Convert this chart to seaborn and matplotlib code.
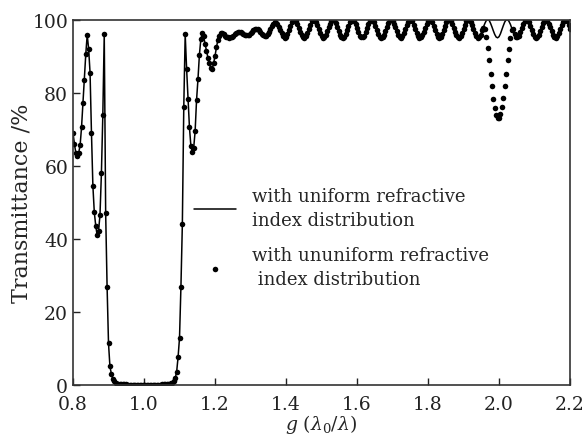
import numpy as np
import pandas as pd
import seaborn as sns
import matplotlib.pyplot as plt
from matplotlib.ticker import FormatStrFormatter

# sampling of g = lambda0/lambda
g_start = 0.8
g_step = 0.004

# transmittance (%) with uniform refractive index
# 0.800 - 0.932
t_side_left = [69.0, 66.0, 63.5, 62.8, 63.6, 65.6, 70.5, 77.2, 83.4, 90.6,
               95.8, 92.0, 85.5, 69.0, 54.5, 47.3, 43.7, 41.0, 42.3, 46.6,
               58.0, 74.0, 96.0, 47.0, 27.0, 11.5, 5.2, 3.2, 1.8, 1.1,
               0.7, 0.5, 0.4, 0.3]
# 0.936 - 1.064 (stop band)
t_stopband = [0.4, 0.3, 0.3, 0.3, 0.2, 0.2, 0.2, 0.2, 0.2, 0.2,
              0.2, 0.2, 0.2, 0.2, 0.2, 0.2, 0.2, 0.2, 0.2, 0.2,
              0.2, 0.2, 0.2, 0.2, 0.2, 0.2, 0.2, 0.2, 0.2, 0.3,
              0.3, 0.3, 0.4]
# 1.068 - 1.196
t_side_right = [0.4, 0.5, 0.6, 0.8, 1.2, 2.0, 3.8, 7.8, 13.0, 27.0,
                44.0, 76.0, 96.0, 86.5, 78.3, 70.5, 65.5, 63.8, 65.0, 69.5,
                78.0, 83.7, 90.3, 94.6, 96.2, 95.4, 93.3, 91.4, 89.6, 88.0,
                86.8, 86.6, 88.0]
# 1.200 - 1.396
t_ripple_near = [90.0, 92.4, 94.3, 95.6, 96.2, 96.2, 96.0, 95.6, 95.3, 95.1,
                 95.0, 95.1, 95.3, 95.6, 96.0, 96.3, 96.5, 96.6, 96.5, 96.3,
                 96.1, 95.9, 95.8, 95.8, 95.9, 96.2, 96.6, 97.0, 97.3, 97.4,
                 97.3, 97.0, 96.6, 96.1, 95.7, 95.5, 95.6, 96.0, 96.7, 97.5,
                 98.3, 98.9, 99.2, 99.1, 98.7, 98.0, 97.1, 96.2, 95.4, 95.0]
# 1.400 - 2.200
t_ripple_far = [
    95.3, 96.0, 97.0, 98.2, 99.2, 99.8, 100.0, 99.6, 98.8, 97.8, 96.6, 95.7, 95.1,
    95.0, 95.5, 96.4, 97.5, 98.6, 99.5, 99.9, 99.9, 99.4, 98.4, 97.3, 96.2, 95.4, 95.0,
    95.2, 95.8, 96.8, 97.9, 98.9, 99.7, 100.0, 99.8, 99.0, 98.0, 96.9, 95.9, 95.2, 95.0,
    95.3, 96.1, 97.2, 98.3, 99.3, 99.9, 100.0, 99.5, 98.7, 97.6, 96.5, 95.6, 95.1,
    95.1, 95.6, 96.5, 97.6, 98.7, 99.5, 100.0, 99.9, 99.3, 98.3, 97.2, 96.1, 95.3, 95.0,
    95.2, 95.9, 96.9, 98.0, 99.0, 99.8, 100.0, 99.7, 98.9, 97.9, 96.8, 95.8, 95.2, 95.0,
    95.4, 96.2, 97.3, 98.4, 99.4, 99.9, 99.9, 99.5, 98.6, 97.5, 96.4, 95.5, 95.0,
    95.1, 95.7, 96.6, 97.8, 98.8, 99.6, 100.0, 99.8, 99.2, 98.2, 97.0, 96.0, 95.3, 95.0,
    95.3, 96.0, 97.0, 98.2, 99.2, 99.8, 100.0, 99.6, 98.8, 97.8, 96.6, 95.7, 95.1, 95.0,
    95.5, 96.4, 97.5, 98.6, 99.5, 99.9, 99.9, 99.4, 98.4, 97.3, 96.2, 95.4, 95.0,
    95.2, 95.8, 96.8, 97.9, 98.9, 99.7, 100.0, 99.8, 99.0, 98.0, 96.9, 95.9, 95.2, 95.0,
    95.3, 96.1, 97.2, 98.3, 99.3, 99.9, 100.0, 99.5, 98.7, 97.6, 96.5, 95.6, 95.1,
    95.1, 95.6, 96.5, 97.6, 98.7, 99.5, 100.0, 99.9, 99.3, 98.3, 97.2, 96.1, 95.3, 95.0,
    95.2, 95.9, 96.9, 98.0, 99.0, 99.8, 100.0, 99.7, 98.9, 97.9, 96.8, 95.8, 95.2, 95.0,
    95.4, 96.2, 97.3, 98.4, 99.4, 99.9, 99.9, 99.5, 98.6, 97.5]

# ununiform index: same curve except the dip around g = 2.0 (1.952 - 2.044)
dip_start = 1.952
t_dip = [97.0, 97.8, 97.4, 95.3, 92.2, 89.0, 85.2, 81.7, 78.4, 75.8,
         74.0, 73.0, 73.1, 74.2, 76.0, 78.5, 81.8, 85.2, 88.8, 92.0,
         95.0, 97.0, 97.3, 96.0]

t_uniform = np.concatenate([t_side_left, t_stopband, t_side_right,
                            t_ripple_near, t_ripple_far])
g = np.round(g_start + g_step * np.arange(len(t_uniform)), 3)
t_ununiform = t_uniform.copy()
i0 = int(np.argmin(np.abs(g - dip_start)))
t_ununiform[i0:i0 + len(t_dip)] = t_dip

df = pd.DataFrame({"g": g, "uniform": t_uniform, "ununiform": t_ununiform})

sns.set_style("ticks")
plt.rcParams['font.family'] = ['DejaVu Serif']
plt.rcParams['mathtext.fontset'] = 'dejavuserif'

fig = plt.figure(figsize=(5.85, 4.39), dpi=100)
ax = fig.add_axes([0.1248, 0.1196, 0.8496, 0.8337])

sns.lineplot(data=df, x="g", y="uniform", color="black", lw=1.1, ax=ax,
             label="with uniform refractive\nindex distribution")
sns.scatterplot(data=df, x="g", y="ununiform", color="black", s=16,
                linewidth=0, ax=ax,
                label="with ununiform refractive\n index distribution")

ax.set_xlim(0.8, 2.2)
ax.set_ylim(0, 100)
ax.set_xticks([0.8, 1.0, 1.2, 1.4, 1.6, 1.8, 2.0, 2.2])
ax.set_yticks([0, 20, 40, 60, 80, 100])
ax.xaxis.set_major_formatter(FormatStrFormatter('%.1f'))
ax.tick_params(direction='in', length=5, width=1, labelsize=13.5,
               top=False, right=False, colors='#222222')
ax.tick_params(axis='x', pad=7)
for sp in ax.spines.values():
    sp.set_color('#333333')
    sp.set_linewidth(1.2)

ax.set_xlabel(r'$g\ (\lambda_0/\lambda)$', fontsize=13.5, labelpad=-1)
ax.set_ylabel('Transmittance /%', fontsize=16, labelpad=0)

leg = ax.legend(frameon=False, loc='upper left', bbox_to_anchor=(0.211, 0.587),
                fontsize=13, handlelength=2.3, labelspacing=0.93,
                handletextpad=0.9, borderpad=0.4)
for txt in leg.get_texts():
    txt.set_linespacing(1.45)

plt.savefig('out.png', dpi=100)
